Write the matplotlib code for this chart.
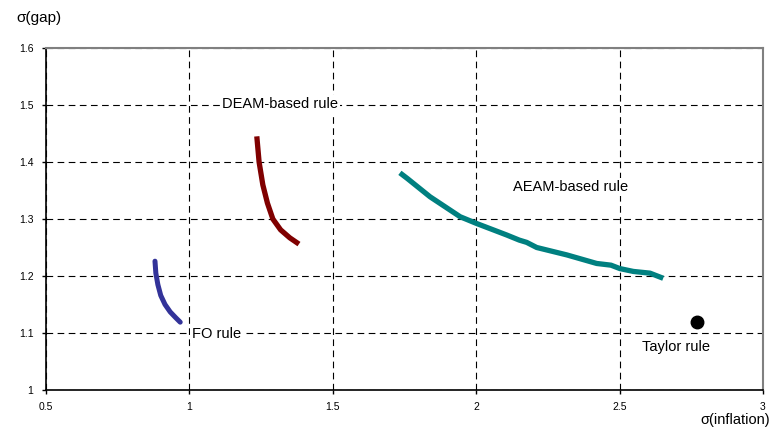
import matplotlib
matplotlib.use("Agg")
import matplotlib.pyplot as plt

plt.rcParams["font.family"] = ["Liberation Sans", "DejaVu Sans"]

# Efficient frontiers: (sigma inflation, sigma gap)
fo_x = [0.880, 0.883, 0.890, 0.900, 0.915, 0.933, 0.952, 0.968]
fo_y = [1.226, 1.205, 1.185, 1.166, 1.150, 1.137, 1.127, 1.119]

deam_x = [1.235, 1.243, 1.256, 1.272, 1.291, 1.318, 1.350, 1.382]
deam_y = [1.445, 1.400, 1.360, 1.328, 1.300, 1.281, 1.267, 1.256]

aeam_x = [1.734, 1.760, 1.839, 1.944, 2.002, 2.106, 2.150, 2.176, 2.211,
          2.316, 2.420, 2.470, 2.501, 2.548, 2.606, 2.652]
aeam_y = [1.381, 1.371, 1.339, 1.304, 1.292, 1.272, 1.263, 1.259, 1.250,
          1.237, 1.222, 1.219, 1.213, 1.208, 1.205, 1.196]

taylor_x = [2.770]
taylor_y = [1.119]

xticks = [0.5, 1, 1.5, 2, 2.5, 3]
xtick_labels = ["0.5", "1", "1.5", "2", "2.5", "3"]
yticks = [1.0, 1.1, 1.2, 1.3, 1.4, 1.5, 1.6]
ytick_labels = ["1", "1.1", "1.2", "1.3", "1.4", "1.5", "1.6"]

fig = plt.figure(figsize=(7.71, 4.33), dpi=100)
ax = fig.add_axes([46 / 771, 1 - 390 / 433, 717 / 771, 342 / 433])

ax.plot(fo_x, fo_y, color="#333399", linewidth=3.6, solid_capstyle="round")
ax.plot(deam_x, deam_y, color="#800000", linewidth=3.8, solid_capstyle="butt")
ax.plot(aeam_x, aeam_y, color="#008080", linewidth=3.8, solid_capstyle="butt")
ax.plot(taylor_x, taylor_y, "o", color="black", markersize=9)

label_box = dict(facecolor="white", edgecolor="none", pad=1.5)
ax.text(1.316, 1.502, "DEAM-based rule", ha="center", va="center",
        fontsize=10.5, bbox=label_box, zorder=5)
ax.text(2.33, 1.356, "AEAM-based rule", ha="center", va="center",
        fontsize=10.5, bbox=label_box, zorder=5)
ax.text(1.01, 1.098, "FO rule", ha="left", va="center",
        fontsize=10.5, bbox=label_box, zorder=5)
ax.text(2.697, 1.075, "Taylor rule", ha="center", va="center",
        fontsize=10.5, bbox=label_box, zorder=5)

ax.set_xlim(0.5, 3)
ax.set_ylim(1.0, 1.6)
ax.set_xticks(xticks)
ax.set_xticklabels(xtick_labels)
ax.set_yticks(yticks)
ax.set_yticklabels(ytick_labels)
ax.tick_params(labelsize=7.5, length=3, width=1, pad=6)

ax.grid(True, color="black", linestyle=(0, (6, 4)), linewidth=0.8)
for side in ("left", "bottom"):
    ax.spines[side].set_color("black")
    ax.spines[side].set_linewidth(1.2)
for side in ("top", "right"):
    ax.spines[side].set_color("#808080")
    ax.spines[side].set_linewidth(1.5)

fig.text(16 / 771, 1 - 18 / 433, "σ(gap)", ha="left", va="center", fontsize=11)
fig.text(770 / 771, 1 - 420 / 433, "σ(inflation)", ha="right", va="center", fontsize=10.5)

fig.savefig("out.png", dpi=100)
